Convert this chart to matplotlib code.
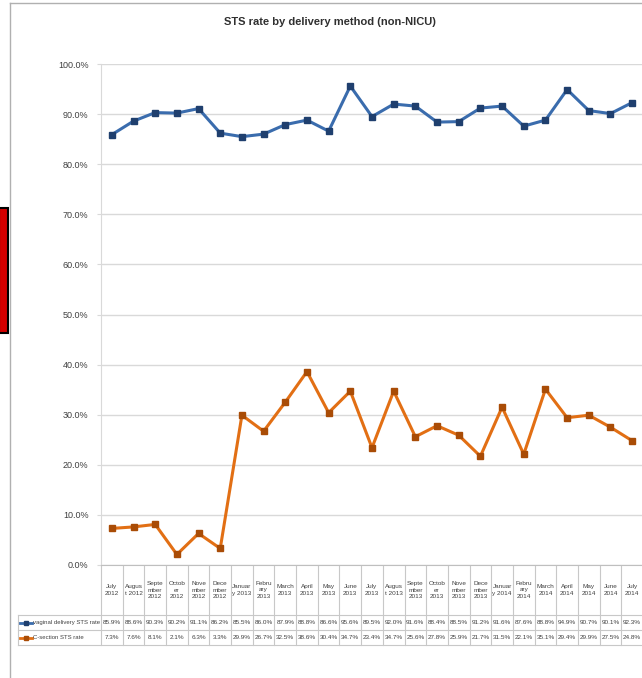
import numpy as np
import matplotlib
matplotlib.use("Agg")
import matplotlib.pyplot as plt
from matplotlib.patches import Rectangle
from matplotlib.transforms import blended_transform_factory

plt.rcParams['font.family'] = ['Liberation Sans Narrow', 'Liberation Sans', 'DejaVu Sans']

months = ["July\n2012", "Augus\nt 2012", "Septe\nmber\n2012", "Octob\ner\n2012", "Nove\nmber\n2012",
          "Dece\nmber\n2012", "Januar\ny 2013", "Febru\nary\n2013", "March\n2013", "April\n2013",
          "May\n2013", "June\n2013", "July\n2013", "Augus\nt 2013", "Septe\nmber\n2013",
          "Octob\ner\n2013", "Nove\nmber\n2013", "Dece\nmber\n2013", "Januar\ny 2014", "Febru\nary\n2014",
          "March\n2014", "April\n2014", "May\n2014", "June\n2014", "July\n2014"]
vaginal = [85.9, 88.6, 90.3, 90.2, 91.1, 86.2, 85.5, 86.0, 87.9, 88.8, 86.6, 95.6, 89.5,
           92.0, 91.6, 88.4, 88.5, 91.2, 91.6, 87.6, 88.8, 94.9, 90.7, 90.1, 92.3]
csection = [7.3, 7.6, 8.1, 2.1, 6.3, 3.3, 29.9, 26.7, 32.5, 38.6, 30.4, 34.7, 23.4,
            34.7, 25.6, 27.8, 25.9, 21.7, 31.5, 22.1, 35.1, 29.4, 29.9, 27.5, 24.8]
series_names = ["vaginal delivery STS rate", "C-section STS rate"]

BLUE, BLUE_E = "#3a6cad", "#1f3f6e"
ORANGE, ORANGE_E = "#e26f14", "#a94c06"
GRID = "#d9d9d9"
TXT = "#404040"

W, H = 642, 678
fig = plt.figure(figsize=(W / 100, H / 100), dpi=100)
fig.patch.set_facecolor("white")

# overlay in pixel coords for frame, table, decorations
ov = fig.add_axes([0, 0, 1, 1])
ov.set_xlim(0, W); ov.set_ylim(H, 0); ov.set_axis_off()

# main plot area
L, R, T, B = 101, 643, 64, 565
ax = fig.add_axes([L / W, 1 - B / H, (R - L) / W, (B - T) / H])
x = np.arange(len(months))
ax.plot(x, vaginal, color=BLUE, lw=2.2, marker="s", ms=4.5, mfc=BLUE_E, mec=BLUE_E, zorder=3)
ax.plot(x, csection, color=ORANGE, lw=2.2, marker="s", ms=4.5, mfc=ORANGE_E, mec=ORANGE_E, zorder=3)
ax.set_xlim(-0.5, len(months) - 0.5)
ax.set_ylim(0, 100)
ax.set_yticks(np.arange(0, 101, 10))
ax.set_yticklabels([f"{v:.1f}%" for v in np.arange(0, 101, 10)], fontsize=6.5, color=TXT)
ax.set_xticks([])
ax.grid(axis="y", color=GRID, lw=1)
ax.set_axisbelow(True)
for s in ["top", "right"]:
    ax.spines[s].set_visible(False)
ax.spines["left"].set_color(GRID)
ax.spines["bottom"].set_color("#bfbfbf")
ax.tick_params(axis="y", length=3, color=GRID, pad=6)

# data table below the axis
tr = blended_transform_factory(ax.transData, ov.transData)
LINE = "#c8c8c8"
r0, r1, r2, r3 = B, 615, 630, 645
FS = 4.6
for i in range(len(months) + 1):
    ov.plot([i - 0.5, i - 0.5], [r0, r3], color=LINE, lw=0.8, transform=tr)
for yy in (r1, r2, r3):
    ov.plot([18, R], [yy, yy], color=LINE, lw=0.8)
ov.plot([18, 18], [r1, r3], color=LINE, lw=0.8)
for i, m in enumerate(months):
    ov.text(i, (r0 + r1) / 2, m, transform=tr, ha="center", va="center",
            fontsize=FS, color=TXT, linespacing=1.45)
    ov.text(i, (r1 + r2) / 2, f"{vaginal[i]:.1f}%", transform=tr, ha="center", va="center",
            fontsize=FS, color=TXT)
    ov.text(i, (r2 + r3) / 2, f"{csection[i]:.1f}%", transform=tr, ha="center", va="center",
            fontsize=FS, color=TXT)
for yy, name, c, ce in [((r1 + r2) / 2, series_names[0], BLUE, BLUE_E),
                        ((r2 + r3) / 2, series_names[1], ORANGE, ORANGE_E)]:
    ov.plot([20, 32], [yy, yy], color=c, lw=2)
    ov.plot([26], [yy], marker="s", ms=3.5, color=ce)
    ov.text(33, yy, name, ha="left", va="center", fontsize=4.3, color=TXT)

# title
ov.text(330, 22, "STS rate by delivery method (non-NICU)", ha="center", va="center",
        fontsize=8, color="#303030", fontweight="bold")

# chart frame and red side marker
ov.plot([10, 10], [3, H], color="#b0b0b0", lw=1)
ov.plot([10, W], [3, 3], color="#b0b0b0", lw=1)
ov.add_patch(Rectangle((-1, 208), 9, 125, facecolor="#d40000", edgecolor="black", lw=1.5))

fig.savefig("out.png", dpi=100, facecolor="white")
